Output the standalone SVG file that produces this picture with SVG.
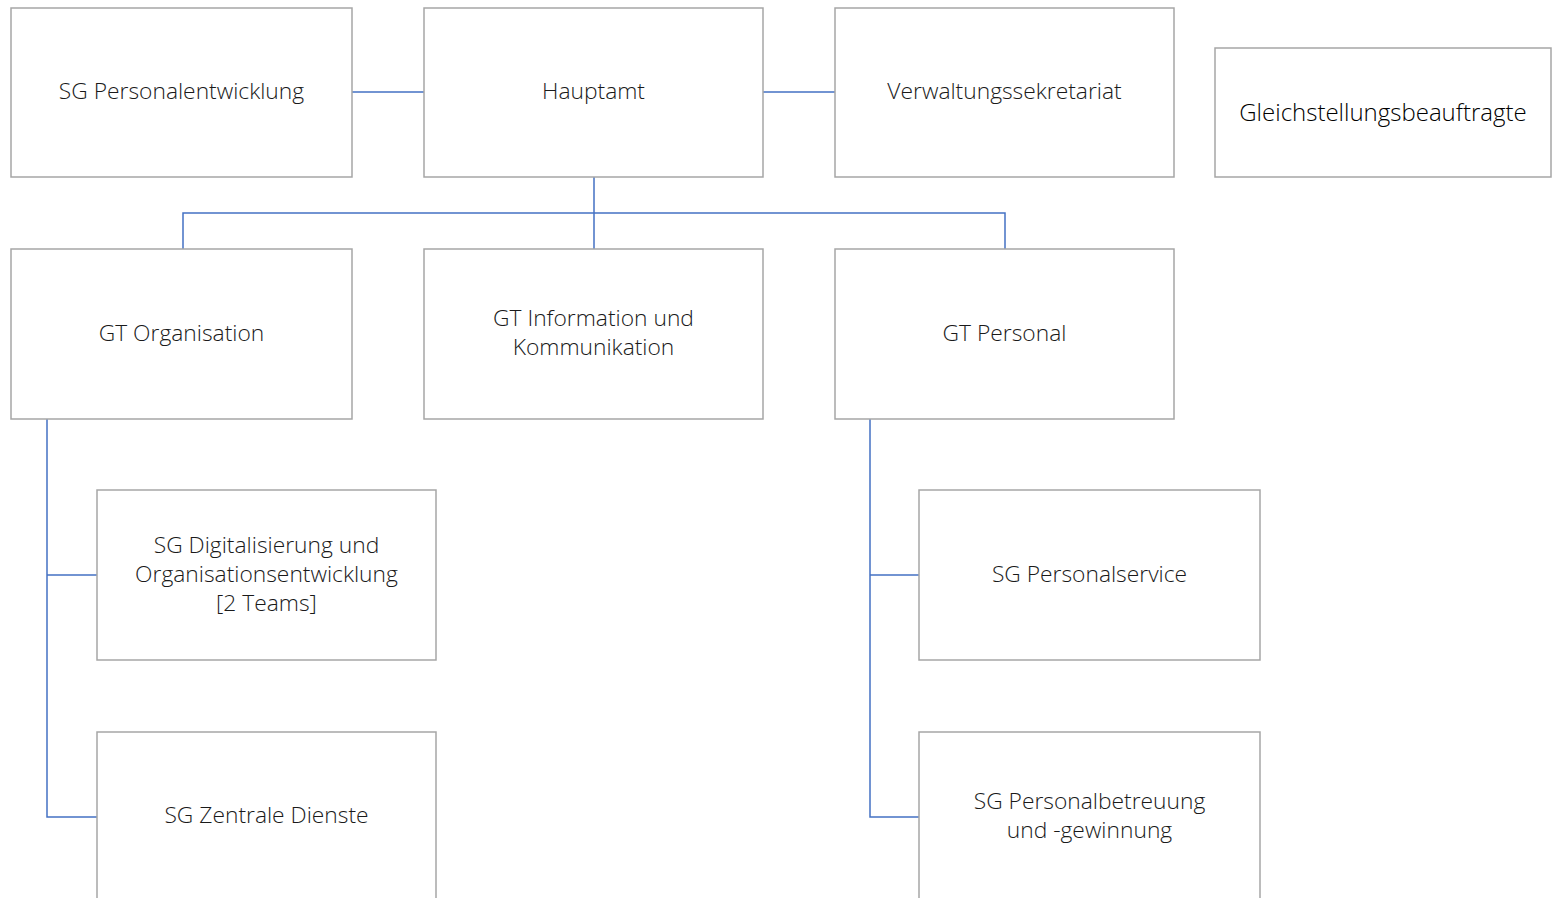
<svg xmlns="http://www.w3.org/2000/svg" width="1552" height="898" viewBox="0 0 1552 898">
<style>
.box{fill:#fff;stroke:#a6a6a6;stroke-width:1.5}
.lbl{font-family:"Open Sans","Noto Sans",sans-serif;font-weight:300;font-size:22.8px;fill:#1a1a1a;text-anchor:middle}
.big{font-size:24px;fill:#000}
.con{fill:none;stroke:#4472c4;stroke-width:1.5}
</style>
<rect width="1552" height="898" fill="#fff"/>
<g id="connectors">
<path class="con" d="M352 92H424M763 92H835"/>
<path class="con" d="M594 177V249M183 249V213H1005V249"/>
<path class="con" d="M47 419V817H97M47 575H97"/>
<path class="con" d="M870 419V817H919M870 575H919"/>
</g>
<g id="sg-personalentwicklung"><rect class="box" x="11" y="8" width="341" height="169"/><text class="lbl" x="181.5" y="99">SG Personalentwicklung</text></g>
<g id="hauptamt"><rect class="box" x="424" y="8" width="339" height="169"/><text class="lbl" x="593.5" y="99">Hauptamt</text></g>
<g id="verwaltungssekretariat"><rect class="box" x="835" y="8" width="339" height="169"/><text class="lbl" x="1004.5" y="99">Verwaltungssekretariat</text></g>
<g id="gleichstellungsbeauftragte"><rect class="box" x="1215" y="48" width="336" height="129"/><text class="lbl big" x="1383" y="121">Gleichstellungsbeauftragte</text></g>
<g id="gt-organisation"><rect class="box" x="11" y="249" width="341" height="170"/><text class="lbl" x="181.5" y="341">GT Organisation</text></g>
<g id="gt-information"><rect class="box" x="424" y="249" width="339" height="170"/><text class="lbl" x="593.5" y="326">GT Information und</text><text class="lbl" x="593.5" y="355">Kommunikation</text></g>
<g id="gt-personal"><rect class="box" x="835" y="249" width="339" height="170"/><text class="lbl" x="1004.5" y="341">GT Personal</text></g>
<g id="sg-digitalisierung"><rect class="box" x="97" y="490" width="339" height="170"/><text class="lbl" x="266.5" y="553">SG Digitalisierung und</text><text class="lbl" x="266.5" y="582">Organisationsentwicklung</text><text class="lbl" x="266.5" y="611">[2 Teams]</text></g>
<g id="sg-zentrale-dienste"><rect class="box" x="97" y="732" width="339" height="180"/><text class="lbl" x="266.5" y="823">SG Zentrale Dienste</text></g>
<g id="sg-personalservice"><rect class="box" x="919" y="490" width="341" height="170"/><text class="lbl" x="1089.5" y="582">SG Personalservice</text></g>
<g id="sg-personalbetreuung"><rect class="box" x="919" y="732" width="341" height="180"/><text class="lbl" x="1089.5" y="809">SG Personalbetreuung</text><text class="lbl" x="1089.5" y="838">und -gewinnung</text></g>
</svg>
